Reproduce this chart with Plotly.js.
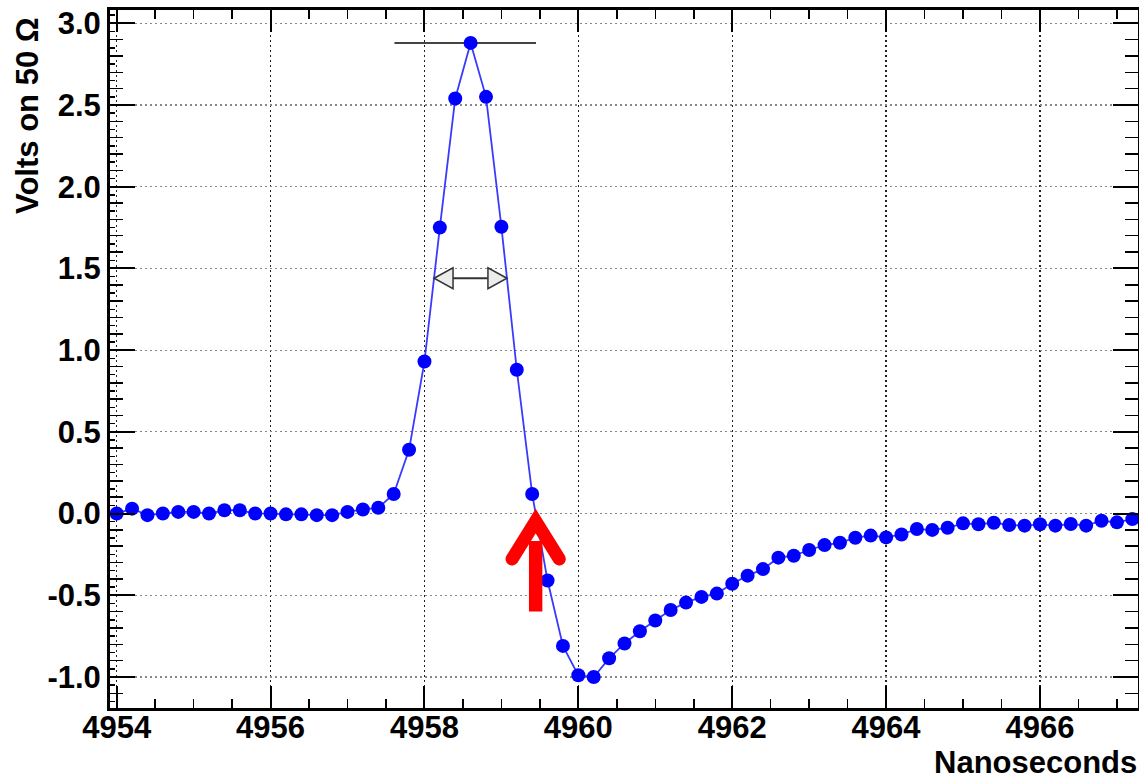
<!DOCTYPE html>
<html>
<head>
<meta charset="utf-8">
<script src="https://cdn.plot.ly/plotly-3.0.1.min.js"></script>
<style>
html, body { margin: 0; padding: 0; background: #fff; }
#chart { width: 1139px; height: 781px; }
</style>
</head>
<body>
<div id="chart"></div>
<script>
// ---- data ----
const timeNs = [
  4954.0, 4954.2, 4954.4, 4954.6, 4954.8, 4955.0, 4955.2, 4955.4, 4955.6, 4955.8,
  4956.0, 4956.2, 4956.4, 4956.6, 4956.8, 4957.0, 4957.2, 4957.4, 4957.6, 4957.8,
  4958.0, 4958.2, 4958.4, 4958.6, 4958.8, 4959.0, 4959.2, 4959.4, 4959.6, 4959.8,
  4960.0, 4960.2, 4960.4, 4960.6, 4960.8, 4961.0, 4961.2, 4961.4, 4961.6, 4961.8,
  4962.0, 4962.2, 4962.4, 4962.6, 4962.8, 4963.0, 4963.2, 4963.4, 4963.6, 4963.8,
  4964.0, 4964.2, 4964.4, 4964.6, 4964.8, 4965.0, 4965.2, 4965.4, 4965.6, 4965.8,
  4966.0, 4966.2, 4966.4, 4966.6, 4966.8, 4967.0, 4967.2
];
const volts = [
  0.00, 0.03, -0.01, 0.00, 0.01, 0.01, 0.00, 0.02, 0.02, 0.00,
  0.00, -0.005, -0.005, -0.01, -0.01, 0.01, 0.025, 0.035, 0.12, 0.39,
  0.93, 1.75, 2.54, 2.88, 2.55, 1.755, 0.88, 0.12, -0.41, -0.81,
  -0.99, -1.00, -0.886, -0.795, -0.72, -0.655, -0.59, -0.545, -0.51, -0.49,
  -0.43, -0.38, -0.34, -0.27, -0.258, -0.223, -0.193, -0.179, -0.148, -0.135,
  -0.146, -0.128, -0.095, -0.10, -0.087, -0.06, -0.066, -0.056, -0.07, -0.074,
  -0.066, -0.074, -0.064, -0.074, -0.044, -0.054, -0.034
];
const xTickVals = [4954, 4956, 4958, 4960, 4962, 4964, 4966];
const xTickText = ["4954", "4956", "4958", "4960", "4962", "4964", "4966"];
const yTickVals = [-1.0, -0.5, 0.0, 0.5, 1.0, 1.5, 2.0, 2.5, 3.0];
const yTickText = ["-1.0", "-0.5", "0.0", "0.5", "1.0", "1.5", "2.0", "2.5", "3.0"];
const xTitle = "Nanoseconds";
const yTitle = "Volts on 50 \u03A9";
const peakLineSpan = [4957.61, 4959.45];

// ---- layout geometry ----
const W = 1139, H = 781;
const M = { l: 110, r: 1, t: 10, b: 73 };
const xRange = [4953.913, 4967.274];
const yRange = [-1.19, 3.0814];
const plotW = W - M.l - M.r, plotH = H - M.t - M.b;
const pxX = plotW / (xRange[1] - xRange[0]);   // px per ns
const pxY = plotH / (yRange[1] - yRange[0]);   // px per volt

// derived annotation anchors from data
const peakV = Math.max(...volts);
const peakIdx = volts.indexOf(peakV);
const halfV = peakV / 2;
function crossing(level, from, step) {
  let i = from;
  while (i + step >= 0 && i + step < volts.length) {
    const a = volts[i], b = volts[i + step];
    if ((a - level) * (b - level) <= 0) {
      const t = (level - a) / (b - a);
      return timeNs[i] + t * (timeNs[i + step] - timeNs[i]);
    }
    i += step;
  }
  return timeNs[i];
}
const fwhmLeft = crossing(halfV, peakIdx, -1);
const fwhmRight = crossing(halfV, peakIdx, 1);
const zeroCross = crossing(0, peakIdx, 1);

const dx = p => p / pxX, dy = p => p / pxY;

const font = { family: "Liberation Sans, Arial, Helvetica, sans-serif", size: 31, color: "#000", weight: "bold" };

// double-arrow triangles
const triLen = 19, triHalf = 10.5;
function triPath(tipX, dir) {
  const bx = tipX + dir * dx(triLen);
  return `M ${tipX},${halfV} L ${bx},${halfV + dy(triHalf)} L ${bx},${halfV - dy(triHalf)} Z`;
}

// red arrow
const arrowTipY = -dy(7.5);
const wingDX = dx(23.6), wingDY = dy(38);
const shaftBottom = -dy(98);

const shapes = [
  { type: "line", xref: "x", yref: "y", x0: peakLineSpan[0], x1: peakLineSpan[1], y0: peakV, y1: peakV,
    line: { color: "#444", width: 2 }, layer: "below" },
  { type: "line", xref: "x", yref: "y", x0: fwhmLeft + dx(triLen), x1: fwhmRight - dx(triLen), y0: halfV, y1: halfV,
    line: { color: "#333", width: 2 } },
  { type: "path", xref: "x", yref: "y", path: triPath(fwhmLeft, 1), fillcolor: "#ececec", line: { color: "#333", width: 1.5 } },
  { type: "path", xref: "x", yref: "y", path: triPath(fwhmRight, -1), fillcolor: "#ececec", line: { color: "#333", width: 1.5 } },
  { type: "rect", xref: "x", yref: "y", x0: zeroCross - dx(6.7), x1: zeroCross + dx(6.7), y0: shaftBottom, y1: arrowTipY - dy(20),
    fillcolor: "#ff0000", line: { width: 0, color: "rgba(0,0,0,0)" } },
  { type: "path", xref: "x", yref: "y",
    path: `M ${zeroCross - wingDX},${arrowTipY - wingDY} L ${zeroCross},${arrowTipY} L ${zeroCross + wingDX},${arrowTipY - wingDY}`,
    line: { color: "#ff0000", width: 13 } }
];

const traces = [
  { x: timeNs, y: volts, type: "scatter", mode: "lines+markers",
    line: { color: "#3a3aff", width: 1.8 },
    marker: { color: "#0000ff", size: 14 },
    hoverinfo: "x+y" },
  { x: [], y: [], type: "scatter", yaxis: "y2", showlegend: false }
];

const layout = {
  width: W, height: H,
  margin: M,
  paper_bgcolor: "#fff", plot_bgcolor: "#fff",
  showlegend: false,
  font: font,
  xaxis: {
    range: xRange, tickmode: "array", tickvals: xTickVals, ticktext: xTickText,
    ticks: "inside", ticklen: 22, tickwidth: 2, tickcolor: "#000",
    showline: true, linewidth: 3, linecolor: "#000", mirror: "ticks",
    showgrid: true, gridcolor: "#222", griddash: "1.5px,3.5px", gridwidth: 1.2,
    zeroline: false, tickfont: font, ticklabelstandoff: -10,
    minor: { tickmode: "linear", tick0: 4954, dtick: 0.5, ticks: "inside", ticklen: 9, tickwidth: 1.5, tickcolor: "#000", showgrid: false }
  },
  yaxis: {
    range: yRange, tickmode: "array", tickvals: yTickVals, ticktext: yTickText,
    ticks: "inside", ticklen: 25, tickwidth: 2, tickcolor: "#000",
    showline: true, linewidth: 3, linecolor: "#000", mirror: "ticks",
    showgrid: true, gridcolor: "#888", griddash: "2px,3px", gridwidth: 1.2,
    zeroline: false, tickfont: font,
    minor: { tickmode: "linear", tick0: 0, dtick: 0.1, ticks: "inside", ticklen: 13, tickwidth: 1.5, tickcolor: "#000", showgrid: false }
  },
  yaxis2: {
    range: yRange, overlaying: "y", side: "left", tickmode: "linear", tick0: 0, dtick: 0.05,
    ticks: "inside", ticklen: 5, tickwidth: 1.5, tickcolor: "#000",
    showticklabels: false, showgrid: false, zeroline: false, showline: false
  },
  shapes: shapes,
  annotations: [
    { text: xTitle, xref: "paper", yref: "paper", x: 1, xanchor: "right", y: -(M.b) / plotH, yanchor: "bottom",
      showarrow: false, font: font, borderpad: 0 },
    { text: yTitle, xref: "paper", yref: "paper", x: -0.0798, xanchor: "center", y: 0.8496, yanchor: "middle",
      textangle: -90, showarrow: false, font: font }
  ]
};

Plotly.newPlot("chart", traces, layout, { displayModeBar: false, staticPlot: true }).then(gd => {
  gd.querySelectorAll(".shapelayer path").forEach(p => {
    const s = p.style.stroke || "";
    if (s.indexOf("255, 0, 0") >= 0 && parseFloat(p.style.strokeWidth) > 5) {
      p.style.strokeLinecap = "round";
      p.style.strokeLinejoin = "miter";
    }
  });
});
</script>
</body>
</html>
